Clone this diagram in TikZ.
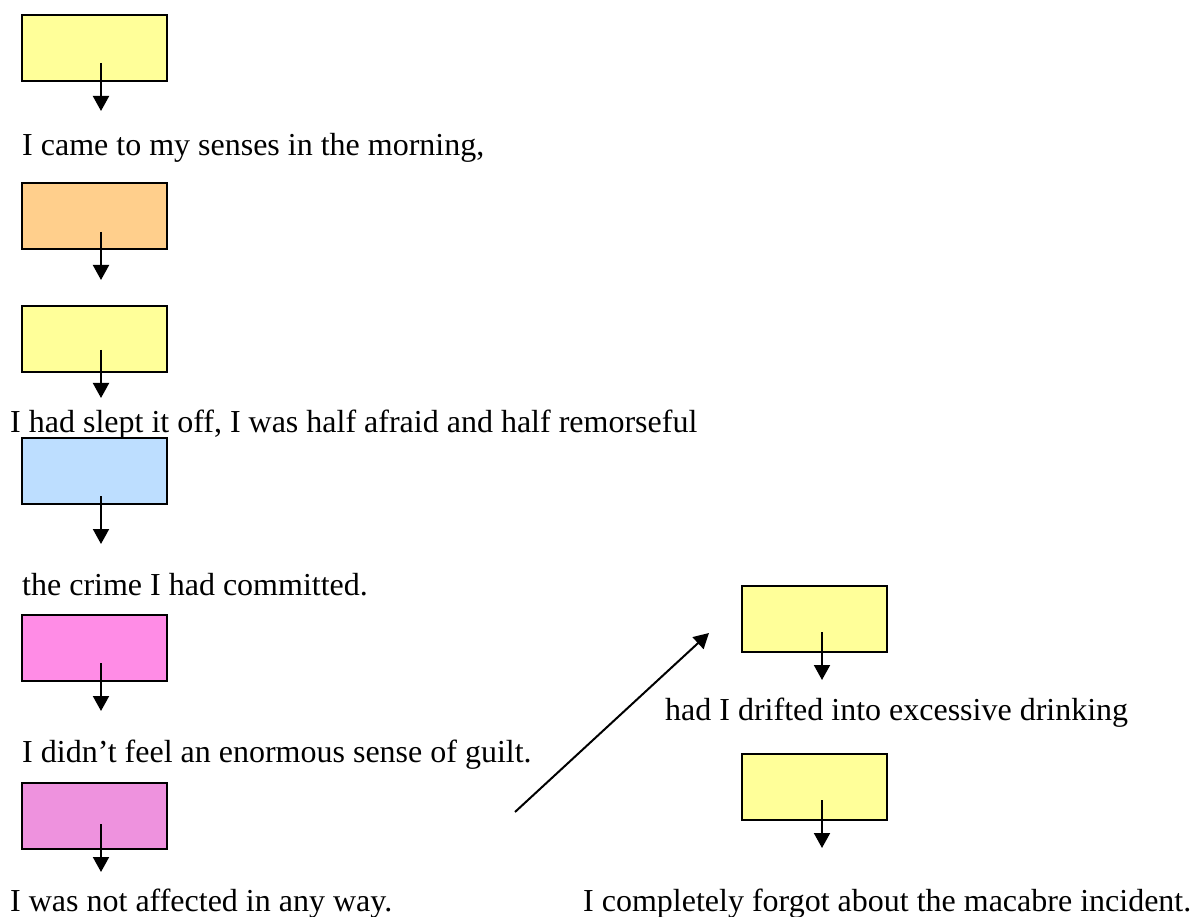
\documentclass[tikz,border=0pt]{standalone}
\usepackage{fontspec}
\setmainfont{Liberation Serif}
\usetikzlibrary{arrows.meta}
\definecolor{boxyellow}{HTML}{FFFF99}
\definecolor{boxorange}{HTML}{FFCF8C}
\definecolor{boxblue}{HTML}{BDDEFF}
\definecolor{boxpink}{HTML}{FF8CE6}
\definecolor{boxviolet}{HTML}{EE92DE}
\tikzset{
  card/.style={draw=black, line width=2pt, rectangle, minimum width=145pt,
    minimum height=66pt, inner sep=0pt, anchor=north west},
  caption/.style={anchor=base west, inner sep=0pt,
    font=\fontsize{32}{38}\selectfont},
  link/.style={line width=2pt, -{Triangle[width=16pt,length=15pt]}}
}
\begin{document}
\begin{tikzpicture}[x=1pt,y=-1pt]
\useasboundingbox (0,0) rectangle (1195,917);
% left column of cards
\node[card, fill=boxyellow] (b1) at (21,14) {};
\node[card, fill=boxorange] (b2) at (21,182) {};
\node[card, fill=boxyellow] (b3) at (21,305) {};
\node[card, fill=boxblue]   (b4) at (21,437) {};
\node[card, fill=boxpink]   (b5) at (21,614) {};
\node[card, fill=boxviolet] (b6) at (21,782) {};
% right column of cards
\node[card, fill=boxyellow] (r1) at (741,585) {};
\node[card, fill=boxyellow] (r2) at (741,753) {};
% captions
\node[caption] (t1) at (22,156) {I came to my senses in the morning,};
\node[caption] (t2) at (10,432) {I had slept it off, I was half afraid and half remorseful};
\node[caption] (t3) at (22,595) {the crime I had committed.};
\node[caption] (t4) at (22,762) {I didn’t feel an enormous sense of guilt.};
\node[caption] (t5) at (10,911) {I was not affected in any way.};
\node[caption] (t6) at (665,720) {had I drifted into excessive drinking};
\node[caption] (t7) at (583,911) {I completely forgot about the macabre incident.};
% short arrows hanging from each card (start inside the card, 48pt long)
\foreach \b/\x/\ya in {b1/101/63, b2/101/232, b3/101/350, b4/101/496,
                       b5/101/663, b6/101/824, r1/822/632, r2/822/800}{
  \coordinate (\b-from) at (\x,\ya);
  \coordinate (\b-to) at (\x,\ya+48);
  \draw[link] (\b-from) -- (\b-to);
}
% diagonal arrow pointing up towards the right-hand column
\coordinate (d-from) at (515,812);
\coordinate (d-to) at (709,633);
\draw[link] (d-from) -- (d-to);
\end{tikzpicture}
\end{document}
